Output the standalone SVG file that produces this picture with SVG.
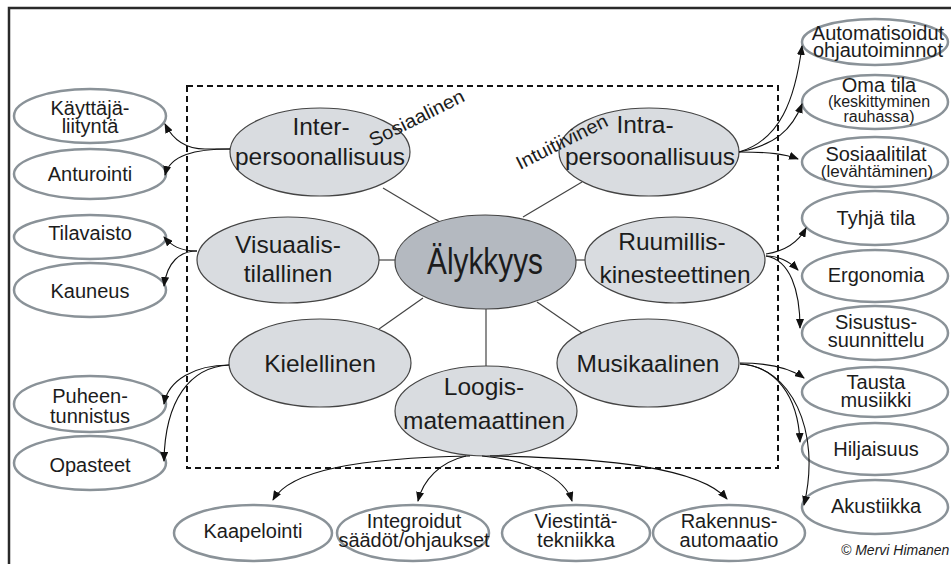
<svg xmlns="http://www.w3.org/2000/svg" width="951" height="564" viewBox="0 0 951 564">
<style>
.frame{fill:none;stroke:#2a2a2a;stroke-width:2.5}
.dash{fill:none;stroke:#111;stroke-width:2;stroke-dasharray:6 4}
.main{fill:#d9dce0;stroke:#444;stroke-width:1.2}
.center{fill:#b4b9c0;stroke:#444;stroke-width:1.2}
.leaf{fill:#fff;stroke:#8a9298;stroke-width:2.5}
.spoke{stroke:#444;stroke-width:1.2;fill:none}
.conn{stroke:#111;stroke-width:1.1;fill:none;marker-end:url(#arr)}
text{font-family:"Liberation Sans",Arial,sans-serif;fill:#1c1c1c;text-anchor:middle}
.big{font-size:24.5px}
.sm{font-size:20px}
.xs{font-size:16px}
.lab{font-size:19px;text-anchor:start}
.copy{font-size:14px;font-style:italic;text-anchor:start}
</style>
<defs>
<marker id="arr" markerUnits="userSpaceOnUse" markerWidth="10" markerHeight="8" refX="9" refY="4" orient="auto">
<path d="M0,0 L10,4 L0,8 z" fill="#111"/>
</marker>
</defs>
<rect x="0" y="0" width="951" height="564" fill="#fff"/>
<path class="frame" d="M9,570 L9,8 L960,8"/>
<rect class="dash" x="187" y="86" width="591" height="382"/>

<g id="spokes">
<line class="spoke" x1="383" y1="188" x2="440" y2="222"/>
<line class="spoke" x1="582" y1="182" x2="523" y2="217"/>
<line class="spoke" x1="379" y1="260" x2="395" y2="260"/>
<line class="spoke" x1="576" y1="260" x2="585" y2="260"/>
<line class="spoke" x1="423" y1="298" x2="379" y2="329"/>
<line class="spoke" x1="537" y1="302" x2="582" y2="333"/>
<line class="spoke" x1="486" y1="309" x2="486" y2="367"/>
</g>

<g id="alykkyys"><ellipse class="center" cx="485.5" cy="262" rx="90.5" ry="47"/><text x="485" y="274" style="font-size:37px" textLength="116" lengthAdjust="spacingAndGlyphs">Älykkyys</text></g>

<g id="inter"><ellipse class="main" cx="320" cy="152" rx="90" ry="44"/><text class="big" x="321" y="135">Inter-</text><text class="big" x="320" y="165">persoonallisuus</text></g>
<g id="intra"><ellipse class="main" cx="649" cy="152" rx="90" ry="44"/><text class="big" x="645" y="133">Intra-</text><text class="big" x="650" y="165">persoonallisuus</text></g>
<g id="visuaalis"><ellipse class="main" cx="288" cy="260" rx="91" ry="43"/><text class="big" x="288" y="253">Visuaalis-</text><text class="big" x="288" y="282">tilallinen</text></g>
<g id="ruumillis"><ellipse class="main" cx="675" cy="260" rx="90" ry="43"/><text class="big" x="672" y="250">Ruumillis-</text><text class="big" x="675" y="283">kinesteettinen</text></g>
<g id="kielellinen"><ellipse class="main" cx="320" cy="363" rx="91" ry="44"/><text class="big" x="320" y="372">Kielellinen</text></g>
<g id="musikaalinen"><ellipse class="main" cx="648" cy="363" rx="91" ry="44"/><text class="big" x="648" y="372">Musikaalinen</text></g>
<g id="loogis"><ellipse class="main" cx="486" cy="411" rx="91" ry="45"/><text class="big" x="484" y="395">Loogis-</text><text class="big" x="484" y="429">matemaattinen</text></g>

<text class="lab" transform="translate(373,147) rotate(-26.6)" textLength="104" lengthAdjust="spacingAndGlyphs">Sosiaalinen</text>
<text class="lab" transform="translate(520,170) rotate(-26.6)" textLength="100" lengthAdjust="spacingAndGlyphs">Intuitiivinen</text>

<g id="kayttaja"><ellipse class="leaf" cx="90" cy="116" rx="76" ry="27"/><text class="sm" x="90" y="115">Käyttäjä-</text><text class="sm" x="90" y="133">liityntä</text></g>
<g id="anturointi"><ellipse class="leaf" cx="90" cy="174" rx="76" ry="25"/><text class="sm" x="90" y="181">Anturointi</text></g>
<g id="tilavaisto"><ellipse class="leaf" cx="90" cy="237" rx="76" ry="22"/><text class="sm" x="90" y="240">Tilavaisto</text></g>
<g id="kauneus"><ellipse class="leaf" cx="90" cy="290" rx="76" ry="27"/><text class="sm" x="90" y="298">Kauneus</text></g>
<g id="puheen"><ellipse class="leaf" cx="90" cy="404" rx="76" ry="28"/><text class="sm" x="90" y="403">Puheen-</text><text class="sm" x="90" y="423">tunnistus</text></g>
<g id="opasteet"><ellipse class="leaf" cx="90" cy="463" rx="76" ry="27"/><text class="sm" x="90" y="472">Opasteet</text></g>

<g id="automatisoidut"><ellipse class="leaf" cx="875" cy="42" rx="73" ry="23"/><text class="sm" x="878" y="40">Automatisoidut</text><text class="sm" x="878" y="57">ohjautoiminnot</text></g>
<g id="omatila"><ellipse class="leaf" cx="875" cy="102" rx="73" ry="27"/><text class="sm" x="879" y="92">Oma tila</text><text class="xs" x="879" y="107">(keskittyminen</text><text class="xs" x="879" y="122">rauhassa)</text></g>
<g id="sosiaalitilat"><ellipse class="leaf" cx="875" cy="162" rx="73" ry="25"/><text class="sm" x="876" y="161">Sosiaalitilat</text><text x="877" y="177" style="font-size:17px">(levähtäminen)</text></g>
<g id="tyhja"><ellipse class="leaf" cx="875" cy="218" rx="73" ry="27"/><text class="sm" x="876" y="225">Tyhjä tila</text></g>
<g id="ergonomia"><ellipse class="leaf" cx="875" cy="276" rx="73" ry="26"/><text class="sm" x="876" y="282">Ergonomia</text></g>
<g id="sisustus"><ellipse class="leaf" cx="875" cy="333" rx="73" ry="27"/><text class="sm" x="876" y="329">Sisustus-</text><text class="sm" x="876" y="347">suunnittelu</text></g>
<g id="tausta"><ellipse class="leaf" cx="875" cy="392" rx="73" ry="25"/><text class="sm" x="876" y="389">Tausta</text><text class="sm" x="876" y="407">musiikki</text></g>
<g id="hiljaisuus"><ellipse class="leaf" cx="875" cy="449" rx="73" ry="26"/><text class="sm" x="876" y="456">Hiljaisuus</text></g>
<g id="akustiikka"><ellipse class="leaf" cx="875" cy="507" rx="73" ry="27"/><text class="sm" x="876" y="513">Akustiikka</text></g>

<g id="kaapelointi"><ellipse class="leaf" cx="253" cy="533" rx="79" ry="28"/><text class="sm" x="253" y="538">Kaapelointi</text></g>
<g id="integroidut"><ellipse class="leaf" cx="413" cy="533" rx="76" ry="28"/><text class="sm" x="414" y="528">Integroidut</text><text class="sm" x="414" y="547">säädöt/ohjaukset</text></g>
<g id="viestinta"><ellipse class="leaf" cx="576" cy="533" rx="74" ry="28"/><text class="sm" x="576" y="528">Viestintä-</text><text class="sm" x="576" y="547">tekniikka</text></g>
<g id="rakennus"><ellipse class="leaf" cx="729" cy="533" rx="76" ry="28"/><text class="sm" x="729" y="528">Rakennus-</text><text class="sm" x="729" y="547">automaatio</text></g>

<g id="connectors">
<path class="conn" d="M230,149 L205,149 C185,149 173,140 165,124"/>
<path class="conn" d="M230,149 C195,149 170,155 165,175"/>
<path class="conn" d="M197,251 C180,251 172,246 164,237"/>
<path class="conn" d="M197,251 C180,251 167,262 164,286"/>
<path class="conn" d="M229,365 C195,365 168,380 164,404"/>
<path class="conn" d="M229,365 C190,367 165,400 164,461"/>
<path class="conn" d="M739,152 C780,140 795,100 802,46"/>
<path class="conn" d="M739,152 C775,145 792,130 802,104"/>
<path class="conn" d="M739,152 C770,152 785,154 798,159"/>
<path class="conn" d="M766,254 C785,251 798,243 806,228"/>
<path class="conn" d="M766,256 C780,256 790,262 798,270"/>
<path class="conn" d="M766,256 C790,260 800,290 800,328"/>
<path class="conn" d="M740,363 C770,363 790,368 804,378"/>
<path class="conn" d="M740,364 C775,366 798,395 800,442"/>
<path class="conn" d="M740,364 C790,366 822,430 804,505"/>
<path class="conn" d="M470,456 C360,458 290,470 273,500"/>
<path class="conn" d="M466,456 C440,462 423,480 418,501"/>
<path class="conn" d="M482,456 C530,460 565,478 572,501"/>
<path class="conn" d="M490,456 C610,458 700,468 727,499"/>
</g>

<text class="copy" x="841" y="555">© Mervi Himanen</text>
</svg>
